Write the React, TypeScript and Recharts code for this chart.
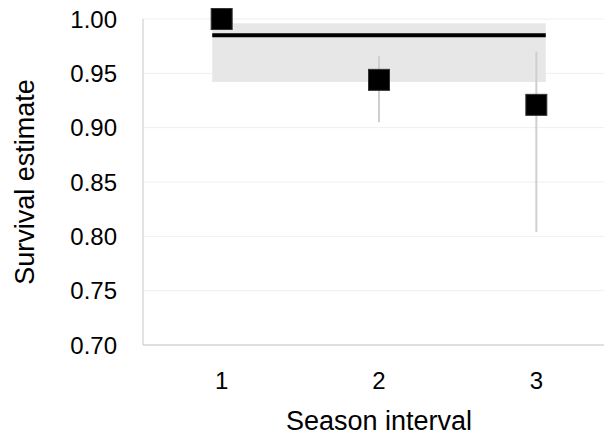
import {
  ComposedChart,
  Area,
  Line,
  Scatter,
  ErrorBar,
  XAxis,
  YAxis,
  CartesianGrid,
} from "recharts";

// season-specific estimates
const intervals = [1, 2, 3];
const survival = [1.0, 0.944, 0.921];
const lower = [1.0, 0.905, 0.804];
const upper = [1.0, 0.966, 0.97];

// constant-survival model (line + CI band)
const modelSpan = [0.94, 3.06];
const modelEstimate = 0.985;
const modelLower = 0.942;
const modelUpper = 0.996;

const yTicks = [0.7, 0.75, 0.8, 0.85, 0.9, 0.95, 1.0];
const xTicks = [1, 2, 3];
const xBoundaries = [1.5, 2.5];

const points = intervals.map((x, i) => ({
  x,
  y: survival[i],
  err: [survival[i] - lower[i], upper[i] - survival[i]],
}));

const model = modelSpan.map((x) => ({
  x,
  mid: modelEstimate,
  band: [modelLower, modelUpper],
}));

const Square = (props: any) => {
  const { cx, cy } = props;
  if (cx == null || cy == null) return null;
  return (
    <rect
      x={cx - 10.5}
      y={cy - 10.5}
      width={21}
      height={21}
      fill="#000"
      stroke="#333"
      strokeWidth={1}
    />
  );
};

export default function App() {
  return (
    <div
      style={{
        position: "absolute",
        left: 0,
        top: 0,
        width: 604,
        height: 436,
        overflow: "hidden",
        background: "#fff",
        fontFamily: "'Liberation Sans', Arial, sans-serif",
      }}
    >
      <ComposedChart
        width={620}
        height={436}
        margin={{ top: 19, right: 5, bottom: 0, left: 0 }}
      >
        <CartesianGrid vertical={false} stroke="#efefef" />
        <XAxis
          dataKey="x"
          type="number"
          domain={[0.5, 3.5]}
          ticks={xTicks}
          interval={0}
          axisLine={false}
          tickLine={false}
          tickSize={0}
          tickMargin={27}
          height={91}
          tick={{ fontSize: 24, fill: "#000" }}
          label={{
            value: "Season interval",
            position: "insideBottom",
            offset: 6,
            style: { fontSize: 27, fill: "#000" },
          }}
        />
        <XAxis
          xAxisId="ticks"
          type="number"
          domain={[0.5, 3.5]}
          ticks={xBoundaries}
          mirror
          tick={false}
          tickSize={8}
          stroke="#c8c8c8"
        />
        <YAxis
          dataKey="y"
          type="number"
          domain={[0.7, 1.0]}
          ticks={yTicks}
          interval={0}
          tickFormatter={(v: number) => v.toFixed(2)}
          axisLine={false}
          tickLine={false}
          tickSize={0}
          tickMargin={26}
          width={143}
          tick={{ fontSize: 24, fill: "#000" }}
          label={{
            value: "Survival estimate",
            angle: -90,
            position: "insideLeft",
            offset: 24,
            style: { textAnchor: "middle", fontSize: 27, fill: "#000" },
          }}
        />
        <YAxis
          yAxisId="ticks"
          type="number"
          domain={[0.7, 1.0]}
          ticks={yTicks}
          mirror
          tick={false}
          tickSize={8}
          stroke="#c8c8c8"
        />
        <Area
          data={model}
          dataKey="band"
          type="linear"
          fill="#e7e7e7"
          fillOpacity={1}
          stroke="none"
          isAnimationActive={false}
        />
        <Line
          data={model}
          dataKey="mid"
          type="linear"
          stroke="#000"
          strokeWidth={4}
          dot={false}
          isAnimationActive={false}
        />
        <Scatter
          data={points}
          dataKey="y"
          shape={Square}
          isAnimationActive={false}
        >
          <ErrorBar
            dataKey="err"
            direction="y"
            width={0}
            stroke="#cfcfcf"
            strokeWidth={2}
          />
        </Scatter>
      </ComposedChart>
    </div>
  );
}
